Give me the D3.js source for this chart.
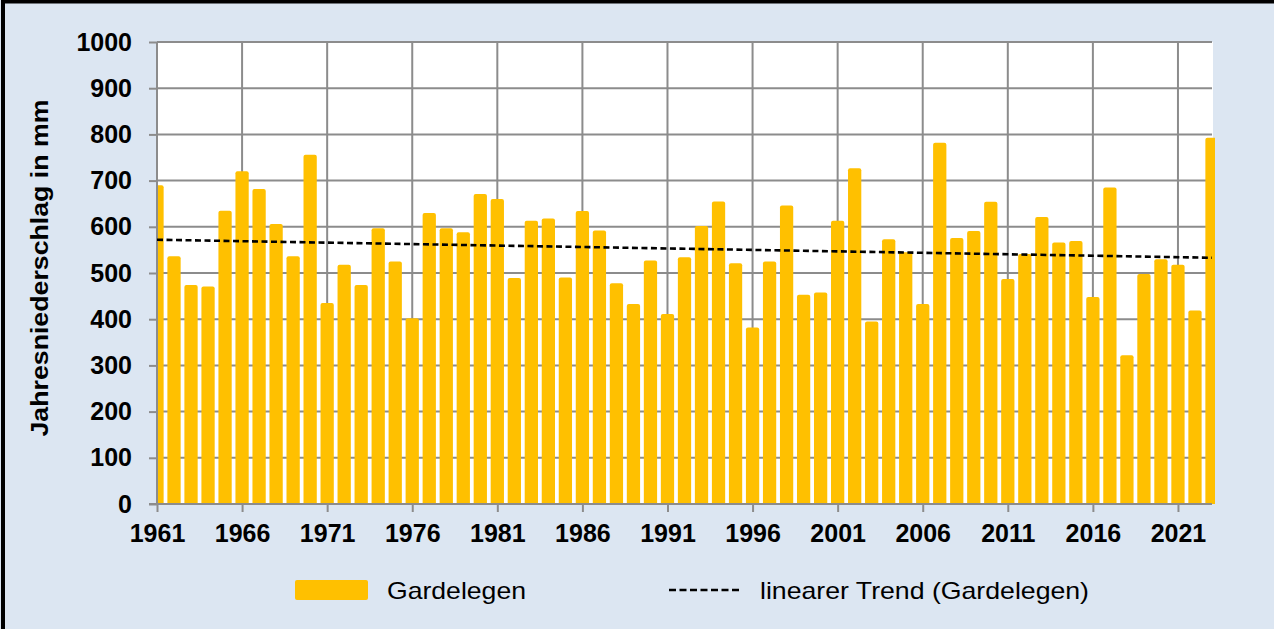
<!DOCTYPE html>
<html>
<head>
<meta charset="utf-8">
<script src="https://cdn.jsdelivr.net/npm/d3@7"></script>
<style>
  body { margin: 0; background: #dce6f2; }
  svg { display: block; }
  text { font-family: "Liberation Sans", Arial, sans-serif; }
</style>
</head>
<body>
<svg id="chart"></svg>
<script>
// annual precipitation Gardelegen, 1961-2023 (mm)
var years = d3.range(1961, 2024);
var precip = [
  690, 536, 474, 471, 635, 720, 682, 606, 536, 756,
  435, 518, 474, 597, 525, 402, 630, 597, 588, 671,
  660, 489, 613, 618, 490, 634, 592, 478, 433, 527,
  411, 534, 602, 655, 521, 382, 525, 646, 453, 458,
  613, 727, 395, 573, 545, 433, 782, 576, 591, 654,
  487, 541, 621, 566, 569, 448, 685, 322, 498, 530,
  518, 419, 793
];
var trendYears = [1961, 2023];
var trendValues = [572, 533];
var yTicks = [0, 100, 200, 300, 400, 500, 600, 700, 800, 900, 1000];
var xTicks = [1961, 1966, 1971, 1976, 1981, 1986, 1991, 1996, 2001, 2006, 2011, 2016, 2021];
var seriesName = "Gardelegen";
var trendName = "linearer Trend (Gardelegen)";
var yTitle = "Jahresniederschlag in mm";

(function(){
  var width = 1274, height = 629;
  var pLeft = 157, pRight = 1212, pTop = 42, pBottom = 504;
  var gridColor = "#8c8c8c";
  var barColor = "#ffc000";

  var svg = d3.select("#chart").attr("width", width).attr("height", height);

  svg.append("rect")
    .attr("width", width).attr("height", height)
    .attr("fill", "#dce6f2");

  // frame (only top and left visible)
  svg.append("rect")
    .attr("x", 3).attr("y", 1.5)
    .attr("width", width + 10).attr("height", height + 10)
    .attr("fill", "none").attr("stroke", "#000").attr("stroke-width", 4);

  var x = d3.scaleLinear().domain([1961, 2023]).range([pLeft, pRight]);
  var y = d3.scaleLinear().domain([0, 1000]).range([pBottom, pTop]);
  var step = x(1962) - x(1961);
  var barW = step * 0.78;

  svg.append("rect")
    .attr("x", pLeft).attr("y", pTop)
    .attr("width", pRight - pLeft + 1).attr("height", pBottom - pTop)
    .attr("fill", "#fff");

  // grid
  var grid = svg.append("g").attr("class", "grid");
  grid.selectAll("line.h")
    .data(yTicks)
    .join("line")
    .attr("class", "h")
    .attr("x1", pLeft).attr("x2", pRight)
    .attr("y1", function(d){ return y(d); })
    .attr("y2", function(d){ return y(d); })
    .attr("stroke", gridColor).attr("stroke-width", 2);

  grid.selectAll("line.v")
    .data(xTicks.slice(1))
    .join("line")
    .attr("class", "v")
    .attr("x1", function(d){ return x(d); })
    .attr("x2", function(d){ return x(d); })
    .attr("y1", pTop).attr("y2", pBottom)
    .attr("stroke", gridColor).attr("stroke-width", 2);

  // bars
  svg.append("clipPath").attr("id", "clip")
    .append("rect")
    .attr("x", pLeft).attr("y", 0)
    .attr("width", 1215 - pLeft).attr("height", pBottom);

  svg.append("g")
    .attr("clip-path", "url(#clip)")
    .selectAll("rect")
    .data(precip)
    .join("rect")
    .attr("x", function(d, i){ return x(years[i]) - barW / 2; })
    .attr("y", function(d){ return y(d); })
    .attr("width", barW)
    .attr("height", function(d){ return pBottom - y(d) + 2; })
    .attr("rx", 2)
    .attr("fill", barColor);

  // axes
  var yAxis = d3.axisLeft(y).tickValues(yTicks).tickSize(8).tickPadding(17)
    .tickFormat(d3.format("d"));
  var yG = svg.append("g")
    .attr("transform", "translate(" + pLeft + ",0)")
    .call(yAxis);

  var xAxis = d3.axisBottom(x).tickValues(xTicks).tickSize(8).tickPadding(12)
    .tickFormat(d3.format("d"));
  var xG = svg.append("g")
    .attr("transform", "translate(0," + pBottom + ")")
    .call(xAxis);

  [yG, xG].forEach(function(g){
    g.select(".domain").remove();
    g.selectAll(".tick line").attr("stroke", gridColor).attr("stroke-width", 2);
    g.selectAll(".tick text")
      .attr("fill", "#000")
      .style("font-size", "25px")
      .style("font-weight", "bold");
  });

  svg.append("line")
    .attr("x1", pLeft).attr("x2", pLeft)
    .attr("y1", pTop).attr("y2", pBottom)
    .attr("stroke", gridColor).attr("stroke-width", 2);
  svg.append("line")
    .attr("x1", pLeft - 8).attr("x2", pRight)
    .attr("y1", pBottom).attr("y2", pBottom)
    .attr("stroke", gridColor).attr("stroke-width", 2);

  // trend
  var trendLine = d3.line()
    .x(function(d, i){ return x(trendYears[i]); })
    .y(function(d){ return y(d); });

  svg.append("path")
    .datum(trendValues)
    .attr("d", trendLine)
    .attr("fill", "none")
    .attr("stroke", "#000")
    .attr("stroke-width", 2.6)
    .attr("stroke-dasharray", "6,3.5");

  // y title
  svg.append("text")
    .attr("transform", "translate(48,268) rotate(-90)")
    .attr("text-anchor", "middle")
    .attr("textLength", 337).attr("lengthAdjust", "spacingAndGlyphs")
    .style("font-size", "23px")
    .style("font-weight", "bold")
    .text(yTitle);

  // legend
  var legend = svg.append("g");
  legend.append("rect")
    .attr("x", 295).attr("y", 580)
    .attr("width", 73).attr("height", 20)
    .attr("rx", 2)
    .attr("fill", barColor);
  legend.append("text")
    .attr("x", 387).attr("y", 599)
    .attr("textLength", 139).attr("lengthAdjust", "spacingAndGlyphs")
    .style("font-size", "24px")
    .text(seriesName);
  legend.append("line")
    .attr("x1", 669).attr("x2", 739)
    .attr("y1", 590).attr("y2", 590)
    .attr("stroke", "#000").attr("stroke-width", 2.5)
    .attr("stroke-dasharray", "7,3.5");
  legend.append("text")
    .attr("x", 760).attr("y", 599)
    .attr("textLength", 329).attr("lengthAdjust", "spacingAndGlyphs")
    .style("font-size", "24px")
    .text(trendName);
})();
</script>
</body>
</html>
